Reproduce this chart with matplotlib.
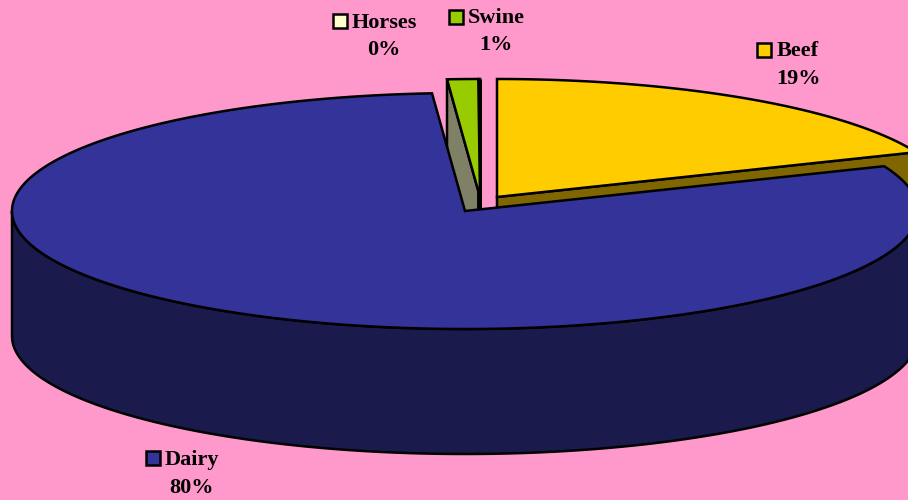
# 3D looking exploded pie, drawn by hand since matplotlib has no 3D pie

import numpy as np
import matplotlib
matplotlib.use('Agg')
import matplotlib.pyplot as plt
from matplotlib.patches import Polygon, Rectangle

labels = ['Beef', 'Dairy', 'Swine', 'Horses']
shares = [18.8, 80.04, 1.1, 0.06]
pct_labels = ['19%', '80%', '1%', '0%']

top_colors = ['#FFCC00', '#333399', '#99CC00', '#FFFFCC']
side_colors = ['#806600', '#1A1A4D', '#808066', '#808066']
bg = '#FF99CC'

# pie projection, in pixels
RX, RY, DEPTH = 453, 118, 125
START = 90
centers = [(497, 197), (465, 211), (480, 197), (480, 197)]

# label layout: key centre, name left edge, name y, percent centre x, percent y
label_pos = [
    (764, 50, 777, 51, 798, 79),
    (153, 458, 165, 460, 192, 488),
    (456, 17, 468, 18, 496, 45),
    (340, 21, 352, 23, 384, 50),
]

fig = plt.figure(figsize=(9.08, 5), dpi=100, facecolor=bg)
ax = fig.add_axes([0, 0, 1, 1])
ax.set_xlim(0, 908)
ax.set_ylim(500, 0)
ax.axis('off')


def ell(c, deg, drop=0):
    t = np.radians(deg)
    return np.column_stack([c[0] + RX * np.cos(t), c[1] - RY * np.sin(t) + drop])


def add(pts, color, z):
    ax.add_patch(Polygon(pts, closed=True, facecolor=color, edgecolor='black',
                         linewidth=1.8, joinstyle='miter', zorder=z))


# slice angles clockwise from 12 o'clock
ends = START - np.cumsum(shares) * 3.6
starts = np.concatenate([[START], ends[:-1]])


def draw_slice(i, z):
    c = centers[i]
    arc = ell(c, np.linspace(starts[i], ends[i], 400))
    apex = np.array([c])
    # cut faces first, the top goes over them
    for a in (starts[i], ends[i]):
        p = ell(c, np.array([a]))
        add(np.vstack([apex, p, p + [0, DEPTH], apex + [0, DEPTH]]), side_colors[i], z)
    add(np.vstack([apex, arc]), top_colors[i], z + 1)


draw_slice(0, 1)
draw_slice(3, 3)
draw_slice(2, 5)

# dairy outer wall, only the front half of the rim shows
c = centers[1]
rim = ell(c, np.linspace(0, -180, 600))
add(np.vstack([rim, rim[::-1] + [0, DEPTH]]), side_colors[1], 7)
top_arc = ell(c, np.linspace(starts[1], ends[1], 1200))
add(np.vstack([np.array([c]), top_arc]), top_colors[1], 8)

font = dict(family='Liberation Serif', fontweight='bold', fontsize=16, color='black', zorder=10)
for i, name in enumerate(labels):
    kx, ky, tx, ty, px, py = label_pos[i]
    ax.add_patch(Rectangle((kx - 7, ky - 7), 14, 14, facecolor=top_colors[i],
                           edgecolor='black', linewidth=1.8, zorder=10))
    ax.text(tx, ty, name, ha='left', va='center', **font)
    ax.text(px, py, pct_labels[i], ha='center', va='center', **font)

fig.savefig('out.png', dpi=100, facecolor=bg)
